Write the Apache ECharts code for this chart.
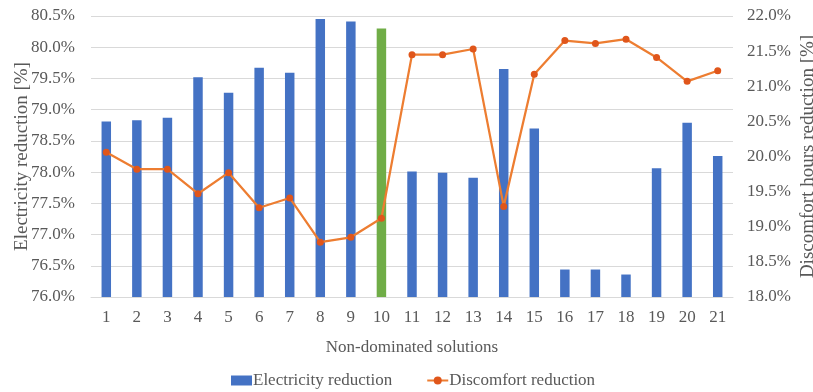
<!DOCTYPE html>
<html>
<head>
<meta charset="utf-8">
<script src="https://cdn.jsdelivr.net/npm/echarts@6/dist/echarts.min.js"></script>
<style>
  html, body { margin: 0; padding: 0; background: #fff; }
  #chart { width: 813px; height: 392px; }
</style>
</head>
<body>
<div id="chart"></div>
<script>
// Non-dominated solutions 1..21
const solutions = ['1','2','3','4','5','6','7','8','9','10','11','12','13','14','15','16','17','18','19','20','21'];

// Electricity reduction [%] (left axis)
const electricity = [78.81, 78.83, 78.87, 79.52, 79.27, 79.67, 79.59, 80.45, 80.41, 80.30,
                     78.01, 77.99, 77.91, 79.65, 78.70, 76.44, 76.44, 76.36, 78.06, 78.79, 78.26];

// Discomfort hours reduction [%] (right axis)
const discomfort = [20.06, 19.82, 19.82, 19.47, 19.77, 19.27, 19.41, 18.78, 18.85, 19.12,
                    21.45, 21.45, 21.53, 19.29, 21.17, 21.65, 21.61, 21.67, 21.41, 21.07, 21.22];

// Solution highlighted as the chosen one
const selectedIndex = 9;

const FONT = '"Liberation Serif", "Times New Roman", serif';
const TEXT = '#595959';
const GRID = '#D9D9D9';
const BLUE = '#4472C4';
const GREEN = '#70AD47';
const ORANGE = '#ED7D31';
const MARKER = '#E0561B';

const pct = v => v.toFixed(1) + '%';

const chart = echarts.init(document.getElementById('chart'), null, { renderer: 'canvas' });

chart.setOption({
  animation: false,
  textStyle: { fontFamily: FONT, color: TEXT },
  grid: { left: 91, right: 80, top: 16, bottom: 95, containLabel: false, outerBoundsMode: 'none' },
  legend: {
    top: 367,
    left: 226,
    itemGap: 34,
    itemWidth: 21,
    itemHeight: 10,
    textStyle: { fontFamily: FONT, fontSize: 17, color: TEXT, padding: [0, 0, 0, -4] },
    data: [
      { name: 'Electricity reduction', icon: 'rect', itemStyle: { color: BLUE } },
      { name: 'Discomfort reduction' }
    ]
  },
  xAxis: {
    type: 'category',
    data: solutions,
    name: 'Non-dominated solutions',
    nameLocation: 'middle',
    nameGap: 42,
    nameMoveOverlap: false,
    nameTextStyle: { fontFamily: FONT, fontSize: 17, color: TEXT },
    axisLine: { show: true, lineStyle: { color: GRID, width: 1 } },
    axisTick: { show: false },
    axisLabel: { fontFamily: FONT, fontSize: 17, color: TEXT, margin: 12, interval: 0 }
  },
  yAxis: [
    {
      type: 'value',
      min: 76.0, max: 80.5, interval: 0.5,
      name: 'Electricity reduction [%]',
      nameLocation: 'middle',
      nameGap: 59,
      nameMoveOverlap: false,
      nameTextStyle: { fontFamily: FONT, fontSize: 19, color: TEXT },
      axisLine: { show: false },
      axisTick: { show: false },
      splitLine: { show: true, lineStyle: { color: GRID, width: 1 } },
      axisLabel: { fontFamily: FONT, fontSize: 17, color: TEXT, margin: 16, formatter: pct }
    },
    {
      type: 'value',
      min: 18.0, max: 22.0, interval: 0.5,
      name: 'Discomfort hours reduction [%]',
      nameLocation: 'middle',
      nameGap: 66,
      nameMoveOverlap: false,
      nameTextStyle: { fontFamily: FONT, fontSize: 19, color: TEXT },
      axisLine: { show: false },
      axisTick: { show: false },
      splitLine: { show: false },
      axisLabel: { fontFamily: FONT, fontSize: 17, color: TEXT, margin: 14, formatter: pct }
    }
  ],
  series: [
    {
      name: 'Electricity reduction',
      type: 'bar',
      yAxisIndex: 0,
      barWidth: '31%',
      data: electricity.map((v, i) => ({
        value: v,
        itemStyle: { color: i === selectedIndex ? GREEN : BLUE }
      })),
      itemStyle: { color: BLUE }
    },
    {
      name: 'Discomfort reduction',
      type: 'line',
      yAxisIndex: 1,
      data: discomfort,
      symbol: 'circle',
      symbolSize: 7,
      lineStyle: { color: ORANGE, width: 2.25 },
      itemStyle: { color: MARKER, borderWidth: 0 },
      z: 3
    }
  ]
});
</script>
</body>
</html>
